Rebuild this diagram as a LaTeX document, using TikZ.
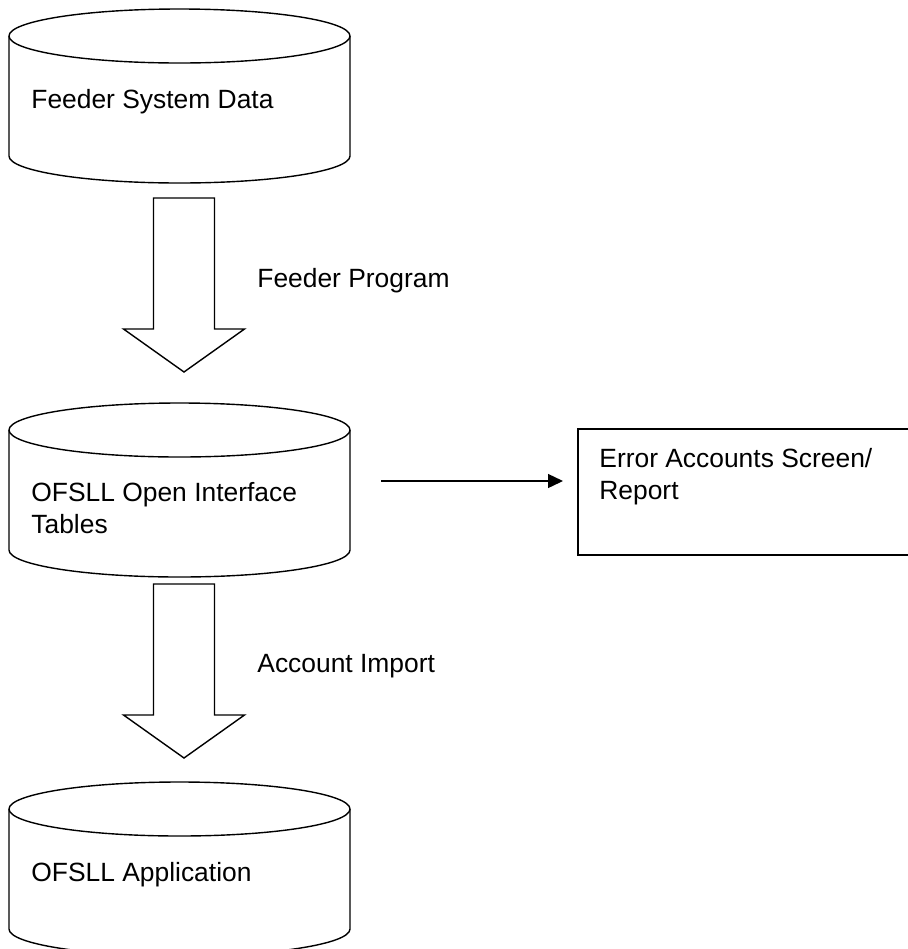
\documentclass[tikz,border=0pt]{standalone}
\usepackage{fontspec}
\setmainfont{Liberation Sans}
\usetikzlibrary{arrows.meta,calc}

% a data store: name, centre of top ellipse, centre of bottom ellipse
\newcommand{\drum}[3]{%
  \draw[drumline] (9,#2) -- (9,#3) arc[start angle=180,end angle=0,x radius=170.5,y radius=27] -- (350,#2);
  \draw[drumline] (179.5,#2) ellipse[x radius=170.5,y radius=27];
  \coordinate (#1) at (179.5,#2);}
% a hollow block arrow from #1 down to its tip #2
\newcommand{\fatarrow}[2]{%
  \draw[fatline] ($(#1)+(-30.5,0)$) -- ($(#2)+(-30.5,-43)$) -- ($(#2)+(-60.5,-43)$) -- (#2)
    -- ($(#2)+(60.5,-43)$) -- ($(#2)+(30.5,-43)$) -- ($(#1)+(30.5,0)$) -- cycle;}

\begin{document}
\begin{tikzpicture}[x=0.5pt,y=-0.5pt,
  drumline/.style={line width=0.7pt},
  fatline/.style={line width=0.7pt,line join=miter},
  txt/.style={inner sep=0pt,font=\fontsize{13.2pt}{16pt}\selectfont,align=left},
  flow/.style={line width=0.7pt,-{Triangle[length=7.5pt,width=7pt]},shorten >=7pt}]
\useasboundingbox (0,0) rectangle (908,949);
% stores
\drum{fsd}{36}{156}
\drum{oit}{430}{550}
\drum{app}{809}{929}
\node[txt,anchor=base west] (fsdtext) at (31,108) {Feeder System Data};
\node[txt,anchor=north west] (oittext) at (31,482) {OFSLL Open Interface\\Tables};
\node[txt,anchor=base west] (apptext) at (31,881) {OFSLL Application};
% error output
\node[draw,line width=0.75pt,anchor=north west,minimum width=171.5pt,minimum height=63pt,inner sep=0pt] (err) at (577,428) {};
\node[txt,anchor=north west] (errtext) at (599,448) {Error Accounts Screen/\\Report};
\coordinate (errfrom) at (381,481);
\draw[flow] (errfrom) -- (errfrom -| err.west);
% programs
\coordinate (fptop) at (184,198);
\coordinate (fptip) at (184,372);
\fatarrow{fptop}{fptip}
\node[txt,anchor=base west] (fplabel) at (257,287) {Feeder Program};
\coordinate (aitop) at (184,584);
\coordinate (aitip) at (184,758);
\fatarrow{aitop}{aitip}
\node[txt,anchor=base west] (ailabel) at (257,672) {Account Import};
\end{tikzpicture}
\end{document}
